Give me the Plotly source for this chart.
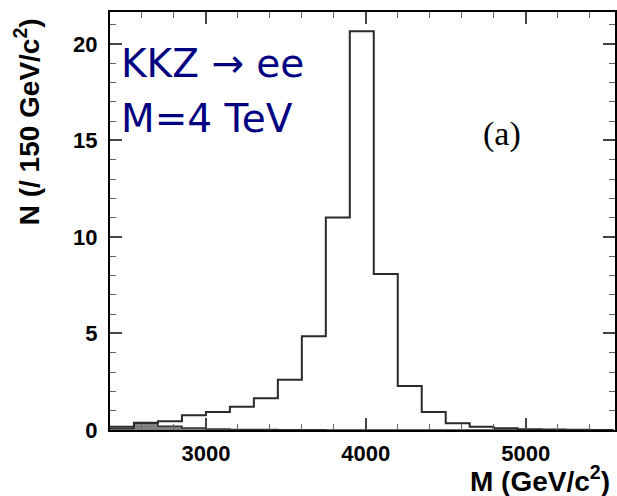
import plotly.graph_objects as go

# ---- data ----
bin_start = 2400          # GeV/c^2, lower edge of first bin
bin_width = 150           # GeV/c^2
signal_counts = [0.17, 0.37, 0.45, 0.77, 0.93, 1.2, 1.65, 2.6, 4.85, 11.0, 20.65,
                 8.08, 2.28, 0.93, 0.35, 0.17, 0.09, 0.04, 0.02, 0.01, 0.0]
background_counts = [0.08, 0.35, 0.2, 0.1, 0.05, 0.03, 0.02, 0.01, 0.01, 0.0, 0.0,
                     0.0, 0.0, 0.0, 0.0, 0.0, 0.0, 0.0, 0.0, 0.0, 0.0]
x_tick_vals = [3000, 4000, 5000]
y_tick_vals = [0, 5, 10, 15, 20]


def step_xy(counts):
    n = len(counts)
    xs = [bin_start + bin_width * i for i in range(n + 1)]
    ys = list(counts) + [counts[-1]]
    return xs, ys


W, H = 617, 496
L, R, T, B = 110, 0, 12, 66
pw, ph = W - L - R, H - T - B

fig = go.Figure()

bx, by = step_xy(background_counts)
fig.add_trace(go.Scatter(x=bx, y=by, mode="lines", line_shape="hv",
                         line=dict(color="#333333", width=1.5),
                         fill="tozeroy", fillcolor="#808080",
                         hoverinfo="skip", showlegend=False))

sx, sy = step_xy(signal_counts)
fig.add_trace(go.Scatter(x=sx, y=sy, mode="lines", line_shape="hv",
                         line=dict(color="#2a2a2a", width=2),
                         hoverinfo="skip", showlegend=False))

tick_font = dict(family="Liberation Sans, Arial, sans-serif", size=22,
                 color="black", weight="bold")

fig.update_xaxes(range=[2400, 2400 + pw / 0.1605], tickvals=x_tick_vals,
                 ticktext=[str(v) for v in x_tick_vals],
                 ticks="inside", ticklen=12, tickwidth=1.5, tickcolor="#444",
                 minor=dict(ticks="inside", dtick=200, tick0=0, ticklen=6,
                            tickwidth=1.2, tickcolor="#666"),
                 showline=True, linecolor="black", linewidth=2, mirror="allticks",
                 showgrid=False, zeroline=False, tickfont=tick_font,
                 ticklabelstandoff=3)
fig.update_yaxes(range=[0, 21.65], tickvals=y_tick_vals,
                 ticktext=[str(v) for v in y_tick_vals],
                 ticks="inside", ticklen=12, tickwidth=1.5, tickcolor="#444",
                 minor=dict(ticks="inside", dtick=1, tick0=0, ticklen=6,
                            tickwidth=1.2, tickcolor="#666"),
                 showline=True, linecolor="black", linewidth=2, mirror="allticks",
                 showgrid=False, zeroline=False, tickfont=tick_font,
                 ticklabelstandoff=6)


def px_x(p):
    return (p - L) / pw


def px_y(p):
    return (H - B - p) / ph


title_font = dict(family="Liberation Sans, Arial, sans-serif", size=28,
                  color="black", weight="bold")
blue_font = dict(family="DejaVu Sans, Verdana, sans-serif", size=39, color="#000080")

annotations = [
    dict(text="N (/ 150 GeV/c<sup>2</sup>)", textangle=-90, x=px_x(27), y=px_y(122),
         xanchor="center", yanchor="middle", font=title_font),
    dict(text="M (GeV/c<sup>2</sup>)", x=px_x(614), y=px_y(479),
         xanchor="right", yanchor="middle", font=title_font),
    dict(text="KKZ \u2192 ee", x=px_x(119), y=px_y(63),
         xanchor="left", yanchor="middle", font=blue_font),
    dict(text="M=4 TeV", x=px_x(119), y=px_y(118),
         xanchor="left", yanchor="middle", font=blue_font),
    dict(text="(a)", x=px_x(504), y=px_y(134),
         xanchor="center", yanchor="middle",
         font=dict(family="Liberation Serif, Times New Roman, serif", size=34,
                   color="black")),
]
for a in annotations:
    a.update(xref="paper", yref="paper", showarrow=False)

fig.update_layout(width=W, height=H, margin=dict(l=L, r=R, t=T, b=B),
                  plot_bgcolor="white", paper_bgcolor="white",
                  annotations=annotations, showlegend=False)

fig.write_html("out.html",
               config={"displayModeBar": False},
               post_script="document.body.style.margin='0';"
                           "document.body.style.overflow='hidden';")
